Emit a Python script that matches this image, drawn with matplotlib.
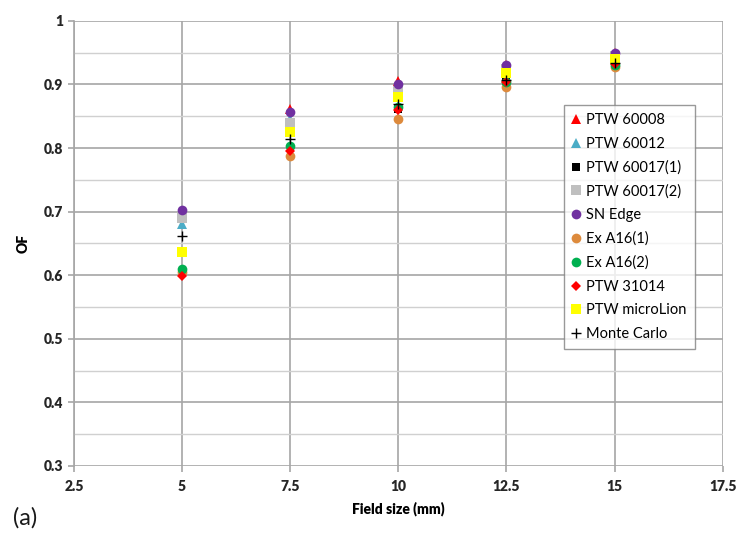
import numpy as np
import matplotlib
matplotlib.use("Agg")
import matplotlib.pyplot as plt
from matplotlib.ticker import MultipleLocator

plt.rcParams['font.family'] = ['Lato', 'DejaVu Sans']

# === Data ===
field_size = [5, 7.5, 10, 12.5, 15]

ptw_60008 = [0.700, 0.862, 0.905, 0.930, 0.950]
ptw_60012 = [0.680, 0.845, 0.890, 0.920, 0.940]
ptw_60017_1 = [0.690, 0.840, 0.861, 0.905, 0.930]
ptw_60017_2 = [0.690, 0.840, 0.890, 0.925, 0.945]
sn_edge = [0.703, 0.857, 0.900, 0.930, 0.950]
exa16_1 = [0.605, 0.788, 0.845, 0.896, 0.927]
exa16_2 = [0.610, 0.803, 0.865, 0.904, 0.930]
ptw_31014 = [0.598, 0.795, 0.860, 0.904, 0.932]
ptw_microlion = [0.637, 0.825, 0.880, 0.918, 0.940]
monte_carlo = [0.661, 0.815, 0.870, 0.907, 0.934]

x_ticks = [2.5, 5, 7.5, 10, 12.5, 15, 17.5]
x_tick_labels = ['2.5', '5', '7.5', '10', '12.5', '15', '17.5']
y_ticks = [0.3, 0.4, 0.5, 0.6, 0.7, 0.8, 0.9, 1.0]
y_tick_labels = ['0.3', '0.4', '0.5', '0.6', '0.7', '0.8', '0.9', '1']

# (values, label, marker, color, size)
series = [
    (ptw_60008, 'PTW 60008', '^', '#ff0000', 7),
    (ptw_60012, 'PTW 60012', '^', '#4bacc6', 7),
    (ptw_60017_1, 'PTW 60017(1)', 's', '#000000', 6),
    (ptw_60017_2, 'PTW 60017(2)', 's', '#bfbfbf', 6.5),
    (sn_edge, 'SN Edge', 'o', '#7030a0', 7),
    (exa16_1, 'Ex A16(1)', 'o', '#dd8a3c', 7),
    (exa16_2, 'Ex A16(2)', 'o', '#00b050', 7),
    (ptw_31014, 'PTW 31014', 'D', '#ff0000', 5.5),
    (ptw_microlion, 'PTW microLion', 's', '#ffff00', 7),
    (monte_carlo, 'Monte Carlo', '+', '#000000', 7),
]

fig = plt.figure(figsize=(7.36, 5.35), dpi=100)
ax = fig.add_axes([0.1005, 0.129, 0.8815, 0.832])

for vals, label, marker, color, size in series:
    ax.plot(field_size, vals, linestyle='none', marker=marker, color=color,
            markersize=size, markeredgewidth=1.0 if marker == '+' else 0,
            label=label)

ax.set_xlim(2.5, 17.5)
ax.set_ylim(0.3, 1.0)
ax.set_xticks(x_ticks)
ax.set_xticklabels(x_tick_labels)
ax.set_yticks(y_ticks)
ax.set_yticklabels(y_tick_labels)
ax.yaxis.set_minor_locator(MultipleLocator(0.05))

ax.grid(True, which='major', color='#a6a6a6', linewidth=1.2)
ax.grid(True, which='minor', axis='y', color='#d0d0d0', linewidth=1.0)
ax.set_axisbelow(True)

for side in ['top', 'right', 'bottom']:
    ax.spines[side].set_visible(False)
ax.spines['left'].set_color('#a6a6a6')
ax.spines['left'].set_linewidth(1.2)

ax.tick_params(axis='y', which='major', length=4, color='#a6a6a6', width=1.2,
               labelsize=10, labelcolor='#262626', pad=4)
ax.tick_params(axis='y', which='minor', length=0)
ax.tick_params(axis='x', length=4, color='#a6a6a6', width=1.2,
               labelsize=10, labelcolor='#262626', pad=6)
for lbl in ax.get_xticklabels() + ax.get_yticklabels():
    lbl.set_fontweight('heavy')

ax.set_xlabel('Field size (mm)', fontsize=10, fontweight='heavy', labelpad=6)
ax.set_ylabel('OF', fontsize=10, fontweight='heavy', labelpad=10)

leg = ax.legend(loc='upper left', bbox_to_anchor=(0.755, 0.811), fontsize=10.5,
                frameon=True, fancybox=False, edgecolor='#808080',
                labelspacing=0.66, handlelength=0.6, handletextpad=0.4,
                borderpad=0.55, borderaxespad=0)
leg.get_frame().set_linewidth(1.0)

fig.text(0.018, 0.02, '(a)', fontsize=17, color='#1a1a1a')

fig.savefig('out.png', dpi=100)
